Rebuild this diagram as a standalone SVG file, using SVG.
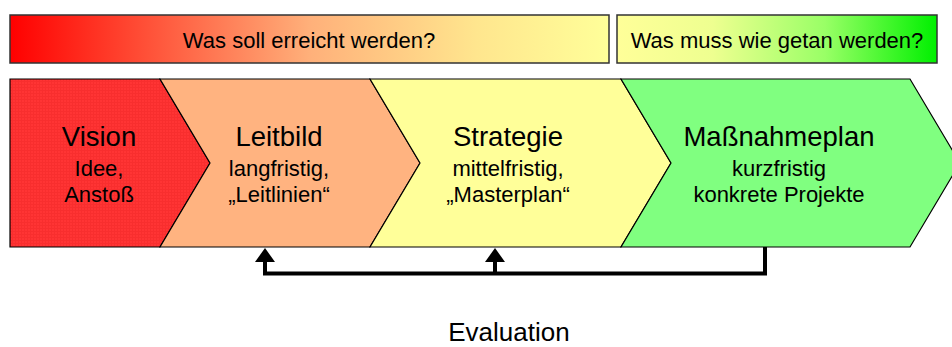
<svg xmlns="http://www.w3.org/2000/svg" width="952" height="347" viewBox="0 0 952 347">
  <style>
    text { font-family: "Liberation Sans", Arial, sans-serif; fill: #000; text-anchor: middle; }
    .bar { stroke: #333; stroke-width: 1.5; }
    .bar-label { font-size: 22px; }
    .step { stroke: #000; stroke-width: 1.2; stroke-linejoin: miter; }
    .title { font-size: 27.5px; }
    .sub { font-size: 22px; }
    .flow { fill: none; stroke: #000; stroke-width: 4; stroke-linejoin: miter; }
    .eval { font-size: 26px; }
  </style>
  <defs>
    <linearGradient id="gradGoal" x1="0" y1="0" x2="1" y2="0">
      <stop offset="0" stop-color="#FF0000"/>
      <stop offset="0.5" stop-color="#FFB07A"/>
      <stop offset="0.78" stop-color="#FFE68E"/>
      <stop offset="1" stop-color="#FFFF99"/>
    </linearGradient>
    <linearGradient id="gradAction" x1="0" y1="0" x2="1" y2="0">
      <stop offset="0" stop-color="#FFFF99"/>
      <stop offset="0.3" stop-color="#EEFF90"/>
      <stop offset="0.65" stop-color="#99FF66"/>
      <stop offset="1" stop-color="#00F000"/>
    </linearGradient>
    <pattern id="redTexture" width="3" height="3" patternUnits="userSpaceOnUse">
      <rect width="3" height="3" fill="#FF3434"/>
      <rect width="1" height="3" fill="#F82E2E"/>
      <rect width="3" height="1" fill="#F82E2E"/>
    </pattern>
    <marker id="arrowUp" viewBox="0 0 14 20" refX="0" refY="10" markerWidth="14" markerHeight="20" markerUnits="userSpaceOnUse" orient="auto">
      <path d="M0,0 L14,10 L0,20 Z" fill="#000"/>
    </marker>
  </defs>

  <!-- header bars -->
  <g id="goal-bar">
    <rect class="bar" x="10" y="15" width="599" height="48" fill="url(#gradGoal)"/>
    <text class="bar-label" x="309" y="48">Was soll erreicht werden?</text>
  </g>
  <g id="action-bar">
    <rect class="bar" x="617" y="15" width="320" height="48" fill="url(#gradAction)"/>
    <text class="bar-label" x="777" y="48">Was muss wie getan werden?</text>
  </g>

  <!-- process chevrons -->
  <g id="vision">
    <polygon class="step" points="10,79 160,79 210,163 160,247 10,247" fill="url(#redTexture)"/>
    <text class="title" x="99" y="146">Vision</text>
    <text class="sub" x="99" y="176">Idee,</text>
    <text class="sub" x="99" y="202">Anstoß</text>
  </g>
  <g id="leitbild">
    <polygon class="step" points="160,79 370,79 420,163 370,247 160,247 210,163" fill="#FFB380"/>
    <text class="title" x="279" y="146">Leitbild</text>
    <text class="sub" x="279" y="176">langfristig,</text>
    <text class="sub" x="279" y="202">„Leitlinien“</text>
  </g>
  <g id="strategie">
    <polygon class="step" points="370,79 621,79 671,163 621,247 370,247 420,163" fill="#FFFF99"/>
    <text class="title" x="508" y="146">Strategie</text>
    <text class="sub" x="508" y="176">mittelfristig,</text>
    <text class="sub" x="508" y="202">„Masterplan“</text>
  </g>
  <g id="massnahmeplan">
    <polygon class="step" points="621,79 910,79 960,163 910,247 621,247 671,163" fill="#80FF80"/>
    <text class="title" x="779" y="146">Maßnahmeplan</text>
    <text class="sub" x="779" y="176">kurzfristig</text>
    <text class="sub" x="779" y="202">konkrete Projekte</text>
  </g>

  <!-- evaluation feedback loop -->
  <g id="connectors">
    <path class="flow" d="M765,247 V273.5 H265 V262" marker-end="url(#arrowUp)"/>
    <path class="flow" d="M495,273.5 V262" marker-end="url(#arrowUp)"/>
  </g>

  <g id="evaluation">
    <text class="eval" x="509" y="341">Evaluation</text>
  </g>
</svg>
